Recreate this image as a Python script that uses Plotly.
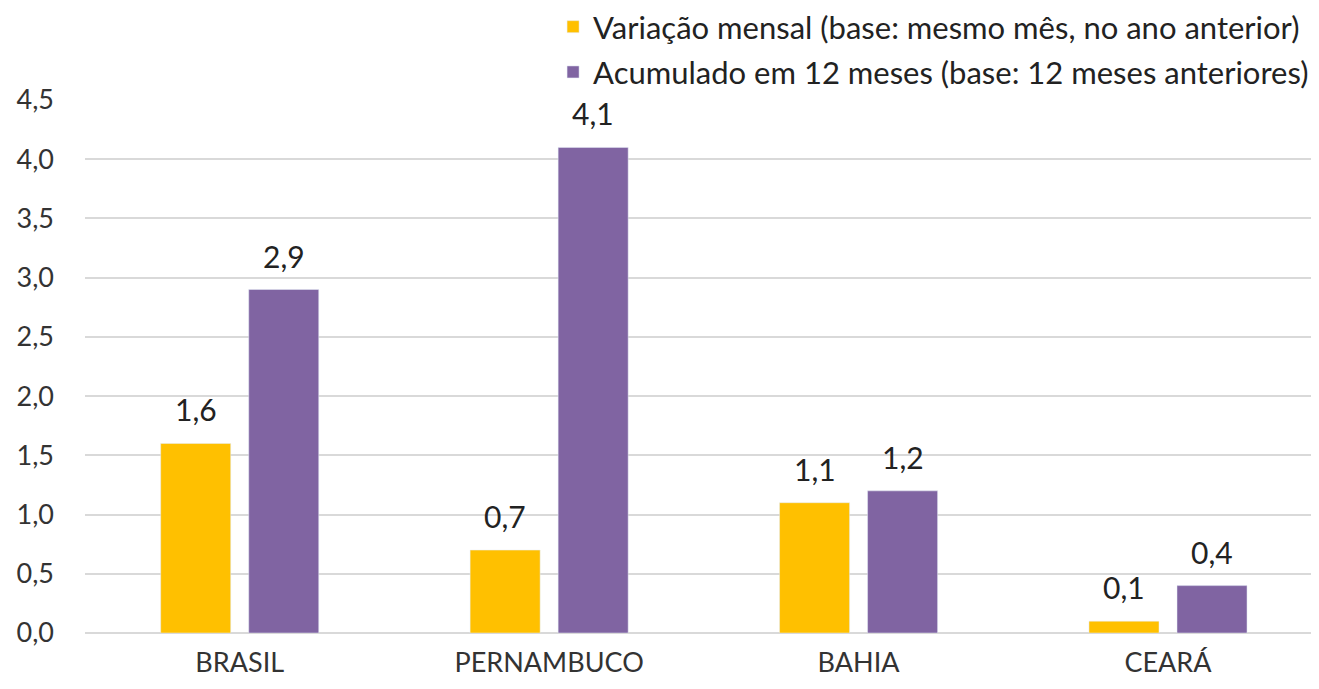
import plotly.graph_objects as go

categories = ["BRASIL", "PERNAMBUCO", "BAHIA", "CEARÁ"]
mensal = [1.6, 0.7, 1.1, 0.1]
acumulado = [2.9, 4.1, 1.2, 0.4]
names = ["Variação mensal (base: mesmo mês, no ano anterior)",
         "Acumulado em 12 meses (base: 12 meses anteriores)"]
colors = ["#FFC000", "#8064A2"]
yticks = [0, 0.5, 1, 1.5, 2, 2.5, 3, 3.5, 4, 4.5]
yticklabels = [f"{v:.1f}".replace(".", ",") for v in yticks]

FONT = "Lato, Open Sans, sans-serif"
TXT = "#333333"


def fmt(v):
    return f"{v:.1f}".replace(".", ",")


fig = go.Figure()
for i, (vals, nm) in enumerate([(mensal, names[0]), (acumulado, names[1])]):
    fig.add_trace(go.Bar(x=categories, y=vals, name=nm, marker_color=colors[i],
                         legendgroup=f"g{i}"))

# data labels
for i, vals in enumerate([mensal, acumulado]):
    shift = -44 if i == 0 else 44
    for c, v in zip(categories, vals):
        fig.add_annotation(x=c, y=v, text=fmt(v), showarrow=False,
                           xanchor="center", yanchor="bottom", xshift=shift, yshift=14,
                           font=dict(size=30, color="#222222", family=FONT))

fig.update_layout(
    width=1311, height=681,
    margin=dict(l=77, r=0, t=92, b=56, autoexpand=False),
    plot_bgcolor="white", paper_bgcolor="white",
    barmode="group", bargap=0.431, bargroupgap=0.2045,
    font=dict(family=FONT, size=27, color=TXT),
    legend=dict(x=0.996, xanchor="right", xref="paper",
                y=1.1876, yanchor="top", yref="paper",
                font=dict(size=31, color="#222222", family=FONT),
                bgcolor="rgba(0,0,0,0)", tracegroupgap=2),
    showlegend=True,
)
fig.update_xaxes(range=[-0.5, 3.488], showgrid=False, showline=False,
                 tickfont=dict(size=27, color=TXT), ticks="", ticklabelstandoff=11)
fig.update_yaxes(range=[0, 4.5], tickvals=yticks, ticktext=yticklabels,
                 showgrid=True, gridcolor="#d9d9d9", gridwidth=1.5,
                 zeroline=True, zerolinecolor="#d9d9d9", zerolinewidth=1.5,
                 tickfont=dict(size=27, color=TXT), ticks="", ticklabelstandoff=30)

fig.write_html("out.html")
